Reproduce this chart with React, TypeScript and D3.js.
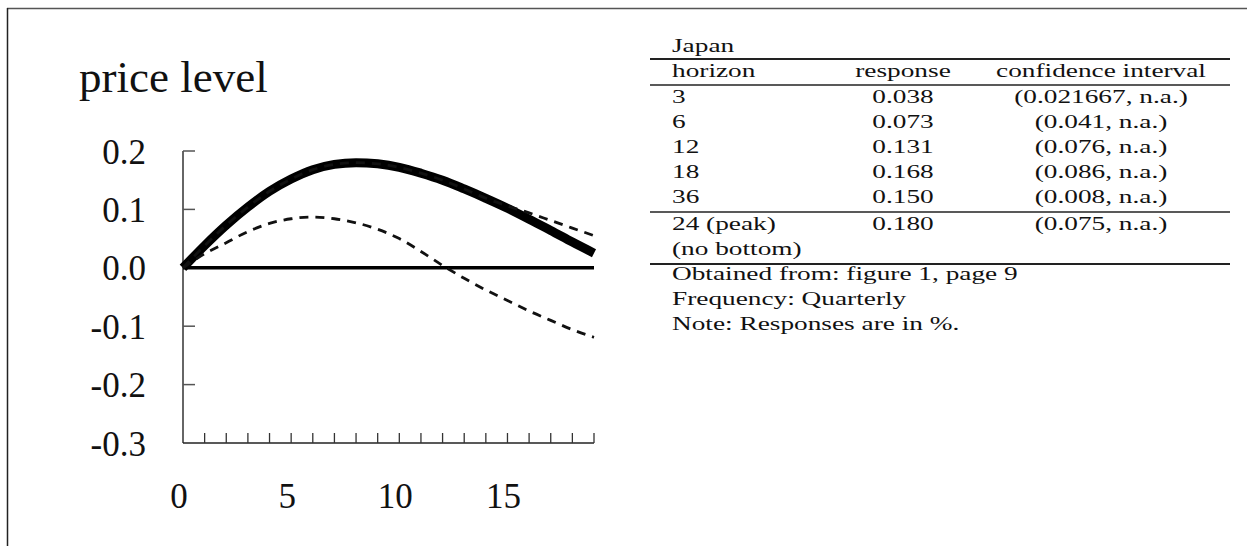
import React from "react";
import * as d3 from "d3";

// ---- chart data ----
const quarters = [0, 1, 2, 3, 4, 5, 6, 7, 8, 9, 10, 11, 12, 13, 14, 15, 16, 17, 18, 19];
const responseLine = [0, 0.038, 0.073, 0.104, 0.131, 0.152, 0.168, 0.177, 0.18, 0.178, 0.172, 0.162, 0.15, 0.135, 0.119, 0.102, 0.083, 0.064, 0.044, 0.025];
const upperBand = [0, 0.038, 0.073, 0.104, 0.131, 0.152, 0.168, 0.177, 0.18, 0.178, 0.172, 0.162, 0.15, 0.135, 0.119, 0.106, 0.094, 0.081, 0.068, 0.055];
const lowerBand = [0, 0.024, 0.043, 0.062, 0.076, 0.084, 0.087, 0.084, 0.077, 0.066, 0.05, 0.028, 0.004, -0.018, -0.038, -0.056, -0.074, -0.09, -0.106, -0.119];
const yTicks = [0.2, 0.1, 0.0, -0.1, -0.2, -0.3];
const yTickLabels = ["0.2", "0.1", "0.0", "-0.1", "-0.2", "-0.3"];
const xTickLabels = [0, 5, 10, 15];
const chartTitle = "price level";

// ---- table data ----
const tableCountry = "Japan";
const tableHeaders = ["horizon", "response", "confidence interval"];
const horizons = ["3", "6", "12", "18", "36"];
const responses = ["0.038", "0.073", "0.131", "0.168", "0.150"];
const intervals = ["(0.021667, n.a.)", "(0.041, n.a.)", "(0.076, n.a.)", "(0.086, n.a.)", "(0.008, n.a.)"];
const peakRow = ["24 (peak)", "0.180", "(0.075, n.a.)"];
const bottomRow = ["(no bottom)", "", ""];
const notes = ["Obtained from: figure 1, page 9", "Frequency: Quarterly", "Note: Responses are in %."];

const W = 1247;
const H = 546;

export default function App() {
  const x = d3.scaleLinear().domain([0, 19]).range([183, 594]);
  const y = d3.scaleLinear().domain([-0.3, 0.2]).range([443, 151]);

  const line = d3
    .line<number>()
    .x((_, i) => x(quarters[i]))
    .y((d) => y(d))
    .curve(d3.curveMonotoneX);

  const serif = "'Liberation Serif', 'Times New Roman', serif";
  const sx = 1.4;
  const tFont = 19.5;

  // table geometry
  const ruleX0 = 650;
  const ruleX1 = 1230;
  const colLeft = 672;
  const colMid = 903;
  const colRight = 1101;
  const tText = (
    s: string,
    px: number,
    py: number,
    anchor: "start" | "middle" | "end",
    key: string
  ) => (
    <text
      key={key}
      transform={`translate(${px},${py}) scale(${sx},1)`}
      textAnchor={anchor}
      fontFamily={serif}
      fontSize={tFont}
      fill="#111"
    >
      {s}
    </text>
  );

  const rowBase = 103;
  const rowStep = 25;

  return (
    <svg
      width={W}
      height={H}
      style={{ position: "absolute", left: 0, top: 0, background: "#fff" }}
    >
      <rect x={0} y={0} width={W} height={H} fill="#fff" />
      {/* frame */}
      <line x1={7} y1={8.5} x2={W} y2={8.5} stroke="#555" strokeWidth={1.5} />
      <line x1={7.5} y1={8} x2={7.5} y2={H} stroke="#222" strokeWidth={1.5} />

      {/* title */}
      <text x={79} y={92} fontFamily={serif} fontSize={45} fill="#111">
        {chartTitle}
      </text>

      {/* y axis */}
      <line x1={x(0)} y1={y(0.2)} x2={x(0)} y2={y(-0.3)} stroke="#333" strokeWidth={1.5} />
      {yTicks.map((t, i) => (
        <g key={"yt" + i}>
          {t !== 0 && t !== -0.3 && (
            <line x1={x(0)} y1={y(t)} x2={x(0) + 12} y2={y(t)} stroke="#555" strokeWidth={1.5} />
          )}
          <text
            x={146}
            y={y(t) + 12.5}
            textAnchor="end"
            fontFamily={serif}
            fontSize={35}
            fill="#111"
          >
            {yTickLabels[i]}
          </text>
        </g>
      ))}

      {/* x axis */}
      <line x1={x(0)} y1={y(-0.3)} x2={x(19)} y2={y(-0.3)} stroke="#222" strokeWidth={1.5} />
      {quarters
        .filter((q) => q > 0)
        .map((q) => (
          <line
            key={"xt" + q}
            x1={x(q)}
            y1={y(-0.3)}
            x2={x(q)}
            y2={y(-0.3) - 10}
            stroke="#333"
            strokeWidth={1.3}
          />
        ))}
      {xTickLabels.map((v) => (
        <text
          key={"xl" + v}
          x={x(v) - 4}
          y={508}
          textAnchor="middle"
          fontFamily={serif}
          fontSize={35}
          fill="#111"
        >
          {v}
        </text>
      ))}

      {/* zero line */}
      <line x1={x(0)} y1={y(0)} x2={x(19)} y2={y(0)} stroke="#000" strokeWidth={3.6} />

      {/* response + bands */}
      <path d={line(responseLine) || ""} fill="none" stroke="#000" strokeWidth={9} />
      <path d={line(upperBand) || ""} fill="none" stroke="#111" strokeWidth={2.8} strokeDasharray="9,7" />
      <path d={line(lowerBand) || ""} fill="none" stroke="#111" strokeWidth={2.8} strokeDasharray="9,7" />

      {/* table */}
      {tText(tableCountry, colLeft, 52, "start", "country")}
      <line x1={ruleX0} y1={59} x2={ruleX1} y2={59} stroke="#222" strokeWidth={2} />
      {tText(tableHeaders[0], colLeft, 77, "start", "h0")}
      {tText(tableHeaders[1], colMid, 77, "middle", "h1")}
      {tText(tableHeaders[2], colRight, 77, "middle", "h2")}
      <line x1={ruleX0} y1={85} x2={ruleX1} y2={85} stroke="#222" strokeWidth={1.4} />
      {horizons.map((h, i) => (
        <g key={"row" + i}>
          {tText(h, colLeft, rowBase + i * rowStep, "start", "a" + i)}
          {tText(responses[i], colMid, rowBase + i * rowStep, "middle", "b" + i)}
          {tText(intervals[i], colRight, rowBase + i * rowStep, "middle", "c" + i)}
        </g>
      ))}
      <line x1={ruleX0} y1={212} x2={ruleX1} y2={212} stroke="#222" strokeWidth={1.4} />
      {tText(peakRow[0], colLeft, 230, "start", "p0")}
      {tText(peakRow[1], colMid, 230, "middle", "p1")}
      {tText(peakRow[2], colRight, 230, "middle", "p2")}
      {tText(bottomRow[0], colLeft, 255, "start", "n0")}
      <line x1={ruleX0} y1={264} x2={ruleX1} y2={264} stroke="#222" strokeWidth={2} />
      {notes.map((n, i) => tText(n, colLeft, 280 + i * 25, "start", "note" + i))}
    </svg>
  );
}
